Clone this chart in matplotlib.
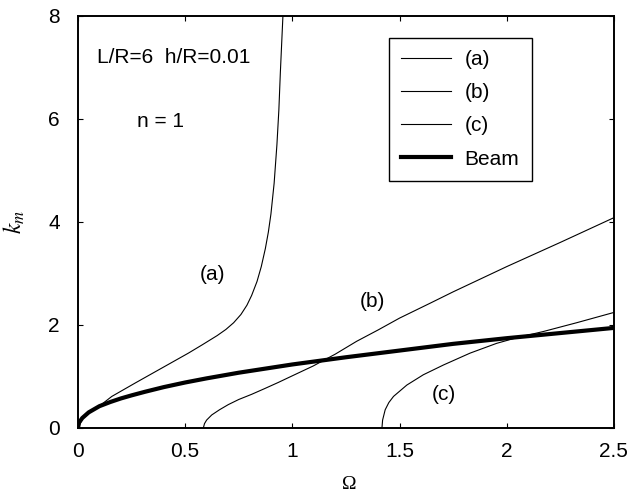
import matplotlib
matplotlib.use("Agg")
import matplotlib.pyplot as plt

# curve data
omega_a = [0, 0.02, 0.05, 0.096, 0.158, 0.267, 0.391, 0.515, 0.579, 0.649, 0.69, 0.726,
           0.76, 0.788, 0.81, 0.835, 0.855, 0.874, 0.888, 0.9, 0.915, 0.928, 0.937,
           0.944, 0.95, 0.956]
k_a = [0, 0.17, 0.28, 0.41, 0.61, 0.87, 1.16, 1.45, 1.61, 1.79, 1.91, 2.04,
       2.2, 2.38, 2.57, 2.84, 3.13, 3.48, 3.8, 4.15, 4.75, 5.5, 6.17,
       6.9, 7.45, 8.0]

omega_b = [0.585, 0.59, 0.6, 0.624, 0.66, 0.701, 0.75, 0.81, 0.87, 0.934, 1.0, 1.097,
           1.2, 1.3, 1.4, 1.5, 1.643, 1.75, 2.0, 2.25, 2.5]
k_b = [0, 0.08, 0.15, 0.25, 0.35, 0.45, 0.55, 0.65, 0.76, 0.88, 1.01, 1.2,
       1.43, 1.68, 1.9, 2.13, 2.42, 2.64, 3.13, 3.6, 4.08]

omega_c = [1.418, 1.421, 1.433, 1.45, 1.472, 1.534, 1.611, 1.705, 1.829, 1.953, 2.047,
           2.171, 2.326, 2.5]
k_c = [0, 0.15, 0.35, 0.49, 0.61, 0.83, 1.03, 1.22, 1.45, 1.64, 1.75,
       1.87, 2.04, 2.24]

omega_beam = [0, 0.005, 0.02, 0.05, 0.1, 0.15, 0.2, 0.25, 0.313, 0.4, 0.5, 0.6, 0.75,
              1.0, 1.25, 1.5, 1.75, 2.0, 2.25, 2.5]
k_beam = [0, 0.1, 0.19, 0.3, 0.42, 0.5, 0.57, 0.63, 0.70, 0.79, 0.88, 0.96, 1.07,
          1.23, 1.37, 1.5, 1.63, 1.74, 1.84, 1.94]

xticks = [0, 0.5, 1, 1.5, 2, 2.5]
xticklabels = ["0", "0.5", "1", "1.5", "2", "2.5"]
yticks = [0, 2, 4, 6, 8]

plt.rcParams['font.family'] = ['Liberation Sans', 'DejaVu Sans']
plt.rcParams['mathtext.fontset'] = 'stix'

fig = plt.figure(figsize=(6.29, 4.94), dpi=100)
ax = fig.add_axes([0.124, 0.134, 0.852, 0.834])

ax.plot(omega_a, k_a, color='black', lw=0.8, label='(a)')
ax.plot(omega_b, k_b, color='black', lw=0.8, label='(b)')
ax.plot(omega_c, k_c, color='black', lw=0.8, label='(c)')
ax.plot(omega_beam, k_beam, color='black', lw=3, label='Beam')

ax.set_xlim(0, 2.5)
ax.set_ylim(0, 8)
ax.set_xticks(xticks)
ax.set_xticklabels(xticklabels)
ax.set_yticks(yticks)
ax.tick_params(direction='in', top=True, right=True, length=3.6, width=0.8, labelsize=15)
ax.tick_params(axis='x', pad=10)
ax.tick_params(axis='y', pad=13)
for s in ax.spines.values():
    s.set_linewidth(1.4)

ax.set_xlabel('Ω', family='Liberation Serif', fontsize=14)
ax.xaxis.set_label_coords(0.507, -0.117)
ax.set_ylabel('$k_m$', fontsize=17)
ax.yaxis.set_label_coords(-0.095, 0.5)

ax.text(0.089, 7.2, 'L/R=6  h/R=0.01', fontsize=15, va='center', ha='left')
ax.text(0.275, 5.94, 'n = 1', fontsize=15, va='center', ha='left')
ax.text(0.627, 2.97, '(a)', fontsize=15, va='center', ha='center')
ax.text(1.374, 2.45, '(b)', fontsize=15, va='center', ha='center')
ax.text(1.707, 0.64, '(c)', fontsize=15, va='center', ha='center')

leg = ax.legend(loc='upper left', bbox_to_anchor=(0.58, 0.947), fontsize=15,
                fancybox=False, edgecolor='black', framealpha=1,
                handlelength=2.4, labelspacing=0.68, handletextpad=0.63,
                borderpad=0.6, borderaxespad=0)
leg.get_frame().set_linewidth(1.0)

fig.savefig('out.png', dpi=100)
